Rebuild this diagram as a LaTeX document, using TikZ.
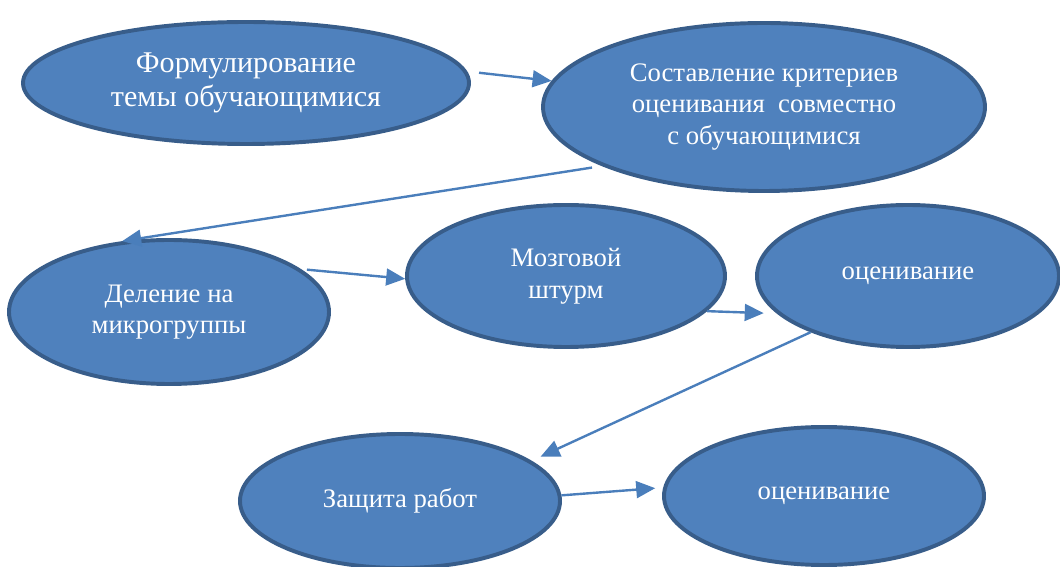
\documentclass[tikz,border=0pt]{standalone}
\usepackage{fontspec}
\setmainfont{Liberation Serif}
\usepackage{tikz}
\usetikzlibrary{shapes.geometric,arrows.meta}

\definecolor{fillblue}{HTML}{4F81BD}
\definecolor{edgeblue}{HTML}{385D8A}
\definecolor{arrowblue}{HTML}{4A7EBB}

\tikzset{
	oval/.style={ellipse, draw=edgeblue, line width=2.8pt, fill=fillblue, text=white,
		align=center, inner sep=0pt, font=\fontsize{19}{22.5}\selectfont},
	link/.style={->, draw=arrowblue, line width=1.7pt}
}

\begin{document}
\begin{tikzpicture}[>={Triangle[length=13.5pt,width=12pt]}]
	%\draw [help lines] (0,0) grid (26.5,14.175);
	\useasboundingbox (0,0) rectangle (26.5,14.175);

	\node [oval, minimum width=11.15cm, minimum height=3.05cm,
		font=\fontsize{21.4}{24.5}\selectfont] (tema) at (6.15,12.1)
		{Формулирование\\темы обучающимися};
	\node [oval, minimum width=11.05cm, minimum height=4.2cm] (kriterii) at (19.1,11.5)
		{Составление критериев\\оценивания\ \ совместно\\с обучающимися};
	\node [oval, minimum width=8cm, minimum height=3.6cm] (delenie) at (4.225,6.375)
		{Деление на\\микрогруппы};
	\node [oval, minimum width=7.95cm, minimum height=3.55cm] (shturm) at (14.15,7.275)
		{Мозговой\\штурм};
	\node [oval, minimum width=7.55cm, minimum height=3.55cm] (ocenka) at (22.7,7.275)
		{оценивание};
	\node [oval, minimum width=8cm, minimum height=3.35cm] (zashita) at (10,1.65)
		{Защита работ};
	\node [oval, minimum width=8cm, minimum height=3.45cm] (itog) at (20.6,1.775)
		{оценивание};

	\draw [link, shorten <=0.3cm] (tema.3) -- (kriterii.173);
	\draw [link, shorten <=0.25cm, shorten >=0.15cm] (kriterii.200) -- (delenie.127);
	\draw [link, shorten <=0.15cm] (delenie.18) -- (shturm.181);
	\draw [link, shorten >=0.33cm] (shturm.346) -- (ocenka.196);
	\draw [link, shorten >=0.25cm] (ocenka.210) -- (zashita.17);
	\draw [link, shorten >=0.2cm] (zashita.2) -- (itog.177);
\end{tikzpicture}
\end{document}
